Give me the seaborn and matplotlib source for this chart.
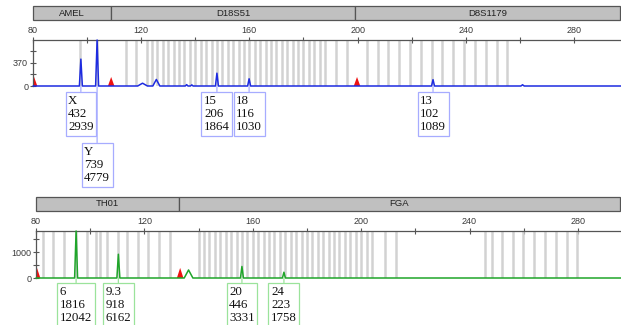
import matplotlib
matplotlib.use('Agg')
import matplotlib.pyplot as plt
import seaborn as sns

sns.set_style('white')
plt.rcParams['font.family'] = ['Liberation Sans', 'DejaVu Sans']

# ---------------- top panel (blue dye) ----------------
top_loci = ['AMEL', 'D18S51', 'D8S1179']
top_locus_start = [80, 108.8, 199.4]
top_locus_end = [108.8, 199.4, 297.4]

top_bins = [97.4, 103.7,
            114.4, 118.1,
            122, 124, 126, 128, 130, 132, 134, 136, 138, 140, 142, 144, 146, 148,
            150, 152, 154, 156, 158, 160, 162, 164, 166, 168, 170, 172, 174, 176,
            178, 180, 182, 184, 186, 188, 192, 196,
            203.4, 207.4, 211.4, 215.4, 219.4, 223.4, 227.4, 231.4, 235.4, 239.4,
            243.4, 247.4, 251.4, 255.4]

top_alleles = ['X', 'Y', '15', '18', '13']
top_allele_pos = [97.7, 103.7, 148.0, 159.9, 227.9]
top_allele_height = [432, 739, 206, 116, 102]
top_allele_area = [2939, 4779, 1864, 1030, 1089]
top_label_drop = [6, 57, 6, 6, 6]

# small artefact bumps in the blue trace
top_noise_pos = [120.5, 125.6, 136.8, 138.7, 261.0]
top_noise_height = [45, 105, 22, 18, 20]
top_noise_halfwidth = [1.8, 1.3, 0.5, 0.5, 0.6]

# size-standard (red) peaks
top_ladder_pos = [80.4, 108.9, 199.8]
top_ladder_height = [145, 145, 145]

# ---------------- bottom panel (green dye) ----------------
bot_loci = ['TH01', 'FGA']
bot_locus_start = [80, 132.8]
bot_locus_end = [132.8, 295.9]

bot_bins = [82.5, 86.4, 90.4, 94.8, 98.7, 102.1, 103.6, 106.2, 110.4, 113.6,
            117.6, 121.3, 125.4, 129.4,
            140, 142, 144, 146, 148, 150, 152, 154, 156, 158, 160, 162, 164, 166,
            168, 170, 172, 174, 176, 178, 180, 182, 184, 186, 188, 190, 192, 194,
            196, 198, 200, 202, 204, 208.8, 212.8,
            245.7, 248.2, 252.1, 256.1, 259.8, 263.9, 267.8, 271.8, 275.8, 279.7]

bot_alleles = ['6', '9.3', '20', '24']
bot_allele_pos = [94.8, 110.4, 156.0, 171.5]
bot_allele_height = [1816, 918, 446, 223]
bot_allele_area = [12042, 6162, 3331, 1758]
bot_label_drop = [5, 5, 5, 5]

bot_noise_pos = [136.3]
bot_noise_height = [310]
bot_noise_halfwidth = [1.6]

bot_ladder_pos = [80.4, 133.2]
bot_ladder_height = [380, 390]

BLUE = '#1d2be0'
GREEN = '#1fa52a'
RED = '#ee1111'
BIN = '#d2d2d2'
SPINE = '#555555'


def trace_points(pos, height, halfw, x0, x1):
    # baseline with a triangle-shaped rise for every peak
    pk = sorted(zip(pos, height, halfw))
    xs, ys = [x0], [0]
    for p, h, w in pk:
        xs += [p - w, p, p + w]
        ys += [0, h, 0]
    xs.append(x1)
    ys.append(0)
    return xs, ys


def draw_panel(fig, rect, bar_rect, xlim, ymax, yticks, yminor,
               loci, lstart, lend, bins, alleles, apos, aheight, aarea, adrop,
               npos, nheight, nhw, lpos, lheight, color, box_ec):
    ax = fig.add_axes(rect)
    ax.set_xlim(*xlim)
    ax.set_ylim(0, ymax)

    ax.vlines(bins, 0, ymax, color=BIN, lw=1.8, zorder=1)

    # size standard peaks
    for p, h in zip(lpos, lheight):
        ax.fill([p - 1.2, p, p + 1.2], [0, h, 0], color=RED, lw=0, zorder=2)

    hw = [0.55] * len(apos) + list(nhw)
    xs, ys = trace_points(list(apos) + list(npos), list(aheight) + list(nheight),
                          hw, xlim[0], xlim[1])
    sns.lineplot(x=xs, y=ys, ax=ax, color=color, lw=1.1, sort=False,
                 estimator=None, zorder=3, clip_on=False)

    for name, p, h, a, d in zip(alleles, apos, aheight, aarea, adrop):
        ax.annotate(f'{name}\n{h}\n{a}', xy=(p, 0), xytext=(0, -d - 2.6),
                    textcoords='offset pixels', ha='center', va='top',
                    multialignment='left', fontsize=9.3, linespacing=1.15,
                    family=['Liberation Serif', 'DejaVu Serif'], color='#111111',
                    bbox=dict(boxstyle='square,pad=0.2', fc='white', ec=box_ec, lw=0.9),
                    arrowprops=dict(arrowstyle='-', color=box_ec, lw=0.9,
                                    shrinkA=0, shrinkB=0),
                    annotation_clip=False, zorder=5)

    for s in ['right', 'bottom']:
        ax.spines[s].set_visible(False)
    for s in ['top', 'left']:
        ax.spines[s].set_color(SPINE)
        ax.spines[s].set_linewidth(0.9)

    ax.xaxis.tick_top()
    ax.set_xticks([80, 120, 160, 200, 240, 280])
    ax.set_xticks([100, 140, 180, 220, 260], minor=True)
    ax.set_yticks(yticks)
    ax.set_yticks(yminor, minor=True)
    ax.tick_params(axis='both', which='both', direction='inout', length=4,
                   width=0.8, color=SPINE, labelsize=6.5, labelcolor='#3a3a3a', pad=1.5)
    ax.tick_params(axis='y', which='both', left=True)
    ax.tick_params(axis='x', which='both', top=True, bottom=False)
    ax.set_xlabel('')
    ax.set_ylabel('')

    # locus bar above the panel
    bx = fig.add_axes(bar_rect)
    bx.set_xlim(*xlim)
    bx.set_ylim(-0.5, 0.5)
    widths = [e - s for s, e in zip(lstart, lend)]
    bx.barh([0] * len(loci), widths, left=lstart, height=1.0, color='#c0c0c0',
            edgecolor='#555555', lw=0.9, clip_on=False)
    for name, s, e in zip(loci, lstart, lend):
        bx.text((s + e) / 2, 0, name, ha='center', va='center', fontsize=6.8,
                color='#222222')
    bx.axis('off')
    return ax


W, H = 621, 325
fig = plt.figure(figsize=(W / 100, H / 100), dpi=100)

draw_panel(fig,
           [33 / W, (H - 86) / H, 588 / W, 46 / H],
           [33 / W, (H - 20) / H, 587 / W, 14 / H],
           (80, 297.4), 739, [0, 370], [185, 555],
           top_loci, top_locus_start, top_locus_end, top_bins,
           top_alleles, top_allele_pos, top_allele_height, top_allele_area, top_label_drop,
           top_noise_pos, top_noise_height, top_noise_halfwidth,
           top_ladder_pos, top_ladder_height, BLUE, '#a7acff')

draw_panel(fig,
           [36 / W, (H - 278) / H, 585 / W, 47 / H],
           [36 / W, (H - 211) / H, 584 / W, 14 / H],
           (80, 295.9), 1816, [0, 1000], [500, 1500],
           bot_loci, bot_locus_start, bot_locus_end, bot_bins,
           bot_alleles, bot_allele_pos, bot_allele_height, bot_allele_area, bot_label_drop,
           bot_noise_pos, bot_noise_height, bot_noise_halfwidth,
           bot_ladder_pos, bot_ladder_height, GREEN, '#9be39b')

fig.savefig('out.png', dpi=100, facecolor='white')
